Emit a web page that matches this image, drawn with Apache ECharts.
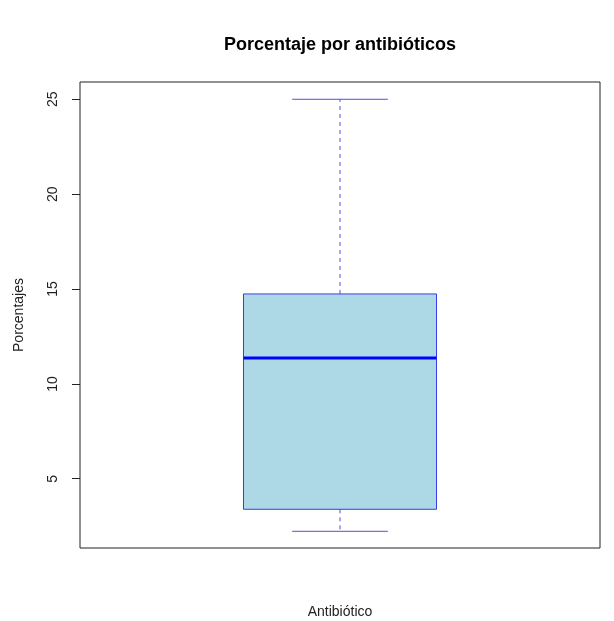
<!DOCTYPE html>
<html>
<head>
<meta charset="utf-8">
<script src="https://cdn.jsdelivr.net/npm/echarts@6/dist/echarts.min.js"></script>
<style>html,body{margin:0;padding:0;background:#fff}#c{width:614px;height:621px}</style>
</head>
<body>
<div id="c"></div>
<script>
// Data
var categories = ['Antibiótico'];
var lowerWhisker = [2.23];
var q1 = [3.39];
var median = [11.37];
var q3 = [14.74];
var upperWhisker = [25.0];
var yTicks = [5, 10, 15, 20, 25];

var FONT = '"Liberation Sans", Arial, Helvetica, sans-serif';
var chart = echarts.init(document.getElementById('c'), null, {renderer: 'canvas'});

var seriesData = categories.map(function (c, i) {
  return [i + 1, lowerWhisker[i], q1[i], median[i], q3[i], upperWhisker[i]];
});

var BOX_HALF = 0.1856, CAP_HALF = 0.092;
var whiskerColor = '#5050e2', borderColor = '#3b3bea';

function renderItem(params, api) {
  var x = api.value(0);
  var lo = api.coord([x, api.value(1)]);
  var b1 = api.coord([x, api.value(2)]);
  var md = api.coord([x, api.value(3)]);
  var b3 = api.coord([x, api.value(4)]);
  var hi = api.coord([x, api.value(5)]);
  var left = api.coord([x - BOX_HALF, 0])[0];
  var right = api.coord([x + BOX_HALF, 0])[0];
  var cl = api.coord([x - CAP_HALF, 0])[0];
  var cr = api.coord([x + CAP_HALF, 0])[0];
  var cx = lo[0];
  return {
    type: 'group',
    children: [
      {type: 'line', shape: {x1: cx, y1: b3[1], x2: cx, y2: hi[1]},
        style: {stroke: whiskerColor, lineWidth: 1, lineDash: [4, 4]}},
      {type: 'line', shape: {x1: cx, y1: b1[1], x2: cx, y2: lo[1]},
        style: {stroke: whiskerColor, lineWidth: 1, lineDash: [4, 4]}},
      {type: 'line', shape: {x1: cl, y1: hi[1], x2: cr, y2: hi[1]},
        style: {stroke: whiskerColor, lineWidth: 1}},
      {type: 'line', shape: {x1: cl, y1: lo[1], x2: cr, y2: lo[1]},
        style: {stroke: whiskerColor, lineWidth: 1}},
      {type: 'rect', shape: {x: left, y: b3[1], width: right - left, height: b1[1] - b3[1]},
        style: {fill: '#ADD8E6', stroke: borderColor, lineWidth: 1}},
      {type: 'line', shape: {x1: left, y1: md[1], x2: right, y2: md[1]},
        style: {stroke: '#0000ff', lineWidth: 3}}
    ]
  };
}

chart.setOption({
  animation: false,
  backgroundColor: '#ffffff',
  grid: {left: 80, right: 14, top: 82, bottom: 73, show: true, borderColor: '#222', borderWidth: 1, backgroundColor: 'transparent'},
  xAxis: {type: 'value', min: 0.5, max: 1.5, show: false},
  yAxis: {
    type: 'value', min: 1.35, max: 25.91,
    splitLine: {show: false},
    axisLine: {show: false},
    axisTick: {show: true, length: 8, lineStyle: {color: '#222'}, customValues: yTicks},
    axisLabel: {show: true, rotate: 90, margin: 20, fontFamily: FONT, fontSize: 14, color: '#222', customValues: yTicks}
  },
  graphic: [
    {type: 'text', x: 340, y: 45, style: {text: 'Porcentaje por antibióticos', font: 'bold 18px ' + FONT, fill: '#000', textAlign: 'center', textVerticalAlign: 'middle'}},
    {type: 'text', x: 340, y: 612, style: {text: 'Antibiótico', font: '14px ' + FONT, fill: '#222', textAlign: 'center', textVerticalAlign: 'middle'}},
    {type: 'text', x: 19, y: 315, rotation: Math.PI / 2, style: {text: 'Porcentajes', font: '14px ' + FONT, fill: '#222', textAlign: 'center', textVerticalAlign: 'middle'}}
  ],
  series: [{
    type: 'custom',
    renderItem: renderItem,
    data: seriesData,
    encode: {x: 0, y: [1, 2, 3, 4, 5]}
  }]
});
</script>
</body>
</html>
